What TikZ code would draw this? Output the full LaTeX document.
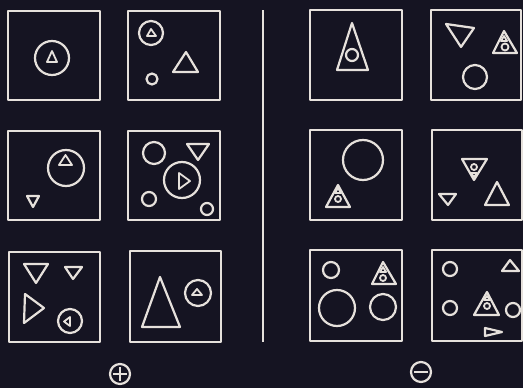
\documentclass[tikz,border=0pt]{standalone}
\usepackage{tikz}
\usetikzlibrary{calc}
\definecolor{board}{RGB}{21, 20, 34}
\definecolor{chalk}{RGB}{230, 225, 220}

\begin{document}
\begin{tikzpicture}[x=1pt, y=-1pt, line join=round,
  panel/.style={draw=chalk, line width=2pt},
  fig/.style={draw=chalk, line width=2.2pt},
  thin fig/.style={draw=chalk, line width=1.8pt}]
  \fill[board] (0,0) rectangle (523,388);
  \useasboundingbox (0,0) rectangle (523,388);

  % left half: triangle inside circle
  \draw[panel] (8,11) rectangle (100,100);
  \draw[fig] (52,58) circle (17);
  \draw[thin fig] (47,62) -- (57,62) -- (52,51) -- cycle;

  \draw[panel] (128,11) rectangle (220,100);
  \draw[fig] (151,33) circle (12);
  \draw[thin fig] (147,36) -- (156,36) -- (151,29) -- cycle;
  \draw[fig] (173,72) -- (198,72) -- (186,52) -- cycle;
  \draw[fig] (152,79) circle (5.5);

  \draw[panel] (8,131) rectangle (100,220);
  \draw[fig] (66,168) circle (18);
  \draw[thin fig] (59,165) -- (72,165) -- (65.5,155) -- cycle;
  \draw[fig] (27,196) -- (39,196) -- (33,207) -- cycle;

  \draw[panel] (128,131) rectangle (220,220);
  \draw[fig] (154,153) circle (11);
  \draw[fig] (187,144) -- (209,144) -- (198,160) -- cycle;
  \draw[fig] (182,180) circle (18);
  \draw[thin fig] (179,173) -- (179,189) -- (190,181) -- cycle;
  \draw[fig] (149,199) circle (7);
  \draw[fig] (207,209) circle (6);

  \draw[panel] (9,252) rectangle (100,342);
  \draw[fig] (24,264) -- (48,264) -- (36,283) -- cycle;
  \draw[fig] (65,267) -- (82,267) -- (73,279) -- cycle;
  \draw[fig] (25,294) -- (24,323) -- (44,308) -- cycle;
  \draw[fig] (70,321) circle (12);
  \draw[thin fig] (70,317) -- (70,326) -- (64,321.5) -- cycle;

  \draw[panel] (130,251) rectangle (221,342);
  \draw[fig] (142,327) -- (180,327) -- (160,277) -- cycle;
  \draw[fig] (198,293) circle (13);
  \draw[thin fig] (192,295) -- (202,295) -- (197,289) -- cycle;

  % divider
  \draw[panel] (263,10) -- (263,342);

  % right half: circle inside triangle
  \draw[panel] (310,10) rectangle (402,100);
  \draw[fig] (337,70) -- (368,70) -- (352,23) -- cycle;
  \draw[fig] (352,55) circle (6);

  \draw[panel] (431,10) rectangle (521,100);
  \draw[fig] (446,24) -- (474,28) -- (461,47) -- cycle;
  \draw[fig] (493,53) -- (517,53) -- (504,31) -- cycle;
  \draw[thin fig] (505,47) circle (3.5);
  \draw[thin fig] (501,41) -- (507,41) -- (504,36) -- cycle;
  \draw[fig] (475,77) circle (12);

  \draw[panel] (310,130) rectangle (402,220);
  \draw[fig] (363,160) circle (20);
  \draw[fig] (326,207) -- (350,207) -- (338,185) -- cycle;
  \draw[thin fig] (338,199) circle (3);
  \draw[thin fig] (335,193) -- (341,193) -- (338,188) -- cycle;

  \draw[panel] (432,130) rectangle (522,220);
  \draw[fig] (462,159) -- (487,159) -- (474,180) -- cycle;
  \draw[thin fig] (474,167) circle (3);
  \draw[thin fig] (471,173) -- (477,173) -- (474,177) -- cycle;
  \draw[fig] (439,194) -- (456,194) -- (448,205) -- cycle;
  \draw[fig] (485,205) -- (509,205) -- (497,182) -- cycle;

  \draw[panel] (310,250) rectangle (402,341);
  \draw[fig] (331,270) circle (8);
  \draw[fig] (372,284) -- (396,284) -- (383,262) -- cycle;
  \draw[thin fig] (383,278) circle (3);
  \draw[thin fig] (380,272) -- (386,272) -- (383,267) -- cycle;
  \draw[fig] (337,308) circle (18);
  \draw[fig] (383,307) circle (13);

  \draw[panel] (432,250) rectangle (522,341);
  \draw[fig] (450,269) circle (7);
  \draw[fig] (502,271) -- (519,271) -- (510,260) -- cycle;
  \draw[fig] (450,308) circle (7);
  \draw[fig] (474,315) -- (499,315) -- (487,292) -- cycle;
  \draw[thin fig] (487,306) circle (3);
  \draw[thin fig] (484,300) -- (490,300) -- (487,296) -- cycle;
  \draw[fig] (513,310) circle (7);
  \draw[fig] (485,328) -- (485,336) -- (502,332) -- cycle;

  % class labels
  \draw[fig] (120,374) circle (10);
  \draw[fig] (113,374) -- (127,374) (120,367) -- (120,381);
  \draw[fig] (421,372) circle (10);
  \draw[fig] (414,372) -- (428,372);
\end{tikzpicture}
\end{document}
